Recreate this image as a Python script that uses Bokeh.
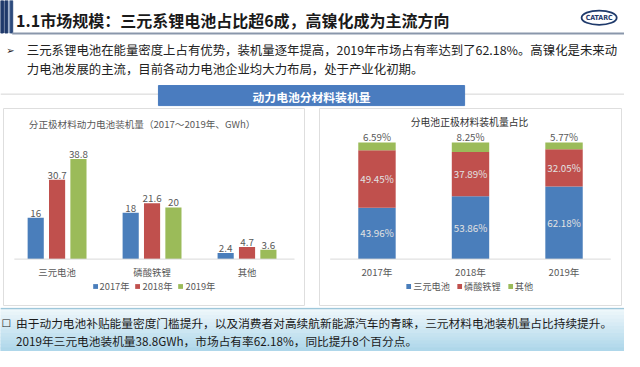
import numpy as np
from bokeh.plotting import figure
from bokeh.models import ColumnDataSource, Range1d, Legend, LegendItem
from bokeh.layouts import column, row
from bokeh.core.properties import value
from bokeh.transform import dodge
from bokeh.embed import file_html
from bokeh.resources import INLINE

# ---------------- data ----------------
slide_title = "1.1市场规模：三元系锂电池占比超6成，高镍化成为主流方向"
bullet_lines = [
    "三元系锂电池在能量密度上占有优势，装机量逐年提高，2019年市场占有率达到了62.18%。高镍化是未来动",
    "力电池发展的主流，目前各动力电池企业均大力布局，处于产业化初期。",
]
banner_text = "动力电池分材料装机量"
footer_lines = [
    "由于动力电池补贴能量密度门槛提升，以及消费者对高续航新能源汽车的青睐，三元材料电池装机量占比持续提升。",
    "2019年三元电池装机量38.8GWh，市场占有率62.18%，同比提升8个百分点。",
]

left_title = "分正极材料动力电池装机量（2017～2019年、GWh）"
categories = ["三元电池", "磷酸铁锂", "其他"]
years = ["2017年", "2018年", "2019年"]
gwh_2017 = [16, 18, 2.4]
gwh_2018 = [30.7, 21.6, 4.7]
gwh_2019 = [38.8, 20, 3.6]

right_title = "分电池正极材料装机量占比"
share_years = ["2017年", "2018年", "2019年"]
materials = ["三元电池", "磷酸铁锂", "其他"]
share_ternary = [43.96, 53.86, 62.18]
share_lfp = [49.45, 37.89, 32.05]
share_other = [6.59, 8.25, 5.77]

# ---------------- styles ----------------
FONT = "Noto Sans CJK SC"
BLUE, RED, GREEN = "#4a7ebb", "#c0504d", "#9bbb59"
GREY_TXT = "#595959"


def deco_fig(w, h, ytop, ybot):
    p = figure(width=w, height=h, x_range=Range1d(0, 640), y_range=Range1d(ybot, ytop),
               output_backend="svg", toolbar_location=None,
               x_axis_location=None, y_axis_location=None, min_border=0,
               outline_line_color=None)
    p.grid.visible = False
    return p


# ---------------- header ----------------
hdr = deco_fig(624, 107, 0, 112)
hdr.quad(left=[0, 4.5, 8.5, 10], right=[3, 7.5, 9.5, 12.5], top=[0] * 4, bottom=[34] * 4,
         color=["#1f3a6b", "#1f3a6b", "#9fb1cc", "#2c4a7c"])
hdr.segment(x0=[12], y0=[34.5], x1=[640], y1=[34.5], line_color="#8a97ab", line_width=2)
hdr.text(x=[16], y=[20], text=[slide_title], text_font=value(FONT), text_font_style="bold",
         text_font_size="16px", text_color="#1a1a1a", text_baseline="middle")
hdr.ellipse(x=[614], y=[18], width=[36], height=[15], fill_color=None,
            line_color="#1f3a6b", line_width=1.8)
hdr.text(x=[614], y=[18.5], text=["CATARC"], text_font=value("DejaVu Sans Condensed"),
         text_font_style="bold", text_font_size="7px", text_color="#1f3a6b",
         text_align="center", text_baseline="middle")
hdr.text(x=[6], y=[52], text=["➢"], text_font=value("DejaVu Sans"), text_font_size="10px",
         text_color="#222222", text_baseline="middle")
hdr.text(x=[27, 27], y=[52, 72], text=bullet_lines, text_font=value(FONT),
         text_font_size="12.4px", text_color="#222222", text_baseline="middle")
hdr.segment(x0=[0], y0=[98], x1=[640], y1=[98], line_color="#d4d4d4", line_width=1)
hdr.quad(left=[162], right=[476], top=[89], bottom=[110], color="#4a7cbf")
hdr.text(x=[319], y=[100], text=[banner_text], text_font=value(FONT), text_font_style="bold",
         text_font_size="11.8px", text_color="white", text_align="center", text_baseline="middle")

# ---------------- left chart ----------------
LX0, LPX, LY0, LPY = 58, 97.5, 271, 2.70


def Lc(px, py):
    return (px - LX0) / LPX, (LY0 - py) / LPY


pL = figure(width=312, height=200,
            x_range=Range1d(Lc(3, 0)[0], Lc(312, 0)[0]),
            y_range=Range1d(Lc(0, 319.5)[1], Lc(0, 113.5)[1]),
            output_backend="svg", toolbar_location=None,
            x_axis_location=None, y_axis_location=None,
            min_border_left=3, min_border_right=8, min_border_top=1, min_border_bottom=2,
            outline_line_color="#dedede")
pL.grid.visible = False

srcL = ColumnDataSource(dict(
    x=list(range(len(categories))), cat=categories,
    v0=gwh_2017, v1=gwh_2018, v2=gwh_2019,
    t0=[f"{v:g}" for v in gwh_2017], t1=[f"{v:g}" for v in gwh_2018],
    t2=[f"{v:g}" for v in gwh_2019]))
items = []
for i, (yr, col) in enumerate(zip(years, [BLUE, RED, GREEN])):
    xd = dodge("x", (i - 1) * 0.225, range=pL.x_range)
    r = pL.vbar(x=xd, top=f"v{i}", bottom=0, width=0.17, fill_color=col, line_color=None, source=srcL)
    pL.text(x=xd, y=f"v{i}", text=f"t{i}", source=srcL, text_align="center",
            text_baseline="alphabetic", y_offset=-5, text_font=value(FONT),
            text_font_size="9.8px", text_color=GREY_TXT)
    items.append(LegendItem(label=yr, renderers=[r]))
pL.segment(x0=[-0.45], x1=[len(categories) - 0.5], y0=[0], y1=[0], line_color="#d9d9d9", line_width=1)
pL.text(x="x", y=0, text="cat", source=srcL, text_align="center", text_baseline="middle",
        y_offset=13, text_font=value(FONT), text_font_size="9.4px", text_color=GREY_TXT)
tx, ty = Lc(29, 130)
pL.text(x=[tx], y=[ty], text=[left_title], text_baseline="middle", text_font=value(FONT),
        text_font_size="9.6px", text_color=GREY_TXT)
legL = Legend(items=items, location="bottom_center", orientation="horizontal",
              glyph_width=6, glyph_height=6, label_height=12, label_standoff=2, spacing=5,
              padding=0, margin=12, border_line_color=None, background_fill_alpha=0,
              label_text_font=FONT, label_text_font_size="9.3px", label_text_color=GREY_TXT)
pL.add_layout(legL)

# ---------------- right chart ----------------
RX0, RPX, RY0, RPY = 386, 96, 271, 1.22


def Rc(px, py):
    return (px - RX0) / RPX, (RY0 - py) / RPY


pR = figure(width=312, height=200,
            x_range=Range1d(Rc(327, 0)[0], Rc(637, 0)[0]),
            y_range=Range1d(Rc(0, 319.5)[1], Rc(0, 113.5)[1]),
            output_backend="svg", toolbar_location=None,
            x_axis_location=None, y_axis_location=None,
            min_border_left=7, min_border_right=3, min_border_top=1, min_border_bottom=2,
            outline_line_color="#dedede")
pR.grid.visible = False

t = np.array(share_ternary)
l = np.array(share_lfp)
o = np.array(share_other)
srcR = ColumnDataSource(dict(
    x=list(range(len(share_years))), yr=share_years, s0=share_ternary, s1=share_lfp, s2=share_other,
    m0=t / 2, m1=t + l / 2, top=t + l + o,
    l0=[f"{v:.2f}%" for v in share_ternary], l1=[f"{v:.2f}%" for v in share_lfp],
    l2=[f"{v:.2f}%" for v in share_other]))
rs = pR.vbar_stack(["s0", "s1", "s2"], x="x", width=0.4, fill_color=[BLUE, RED, GREEN],
                   line_color=None, source=srcR)
for m, lab in (("m0", "l0"), ("m1", "l1")):
    pR.text(x="x", y=m, text=lab, source=srcR, text_align="center", text_baseline="middle",
            text_font=value(FONT), text_font_size="9.8px", text_color="#e2e2e2")
pR.text(x="x", y="top", text="l2", source=srcR, text_align="center", text_baseline="alphabetic",
        y_offset=-5, text_font=value(FONT), text_font_size="9.8px", text_color=GREY_TXT)
pR.segment(x0=[-0.5], x1=[len(share_years) - 0.5], y0=[0], y1=[0], line_color="#d9d9d9", line_width=1)
pR.text(x="x", y=0, text="yr", source=srcR, text_align="center", text_baseline="middle",
        y_offset=13, text_font=value(FONT), text_font_size="9.6px", text_color=GREY_TXT)
tx, ty = Rc(481, 128)
pR.text(x=[tx], y=[ty], text=[right_title], text_align="center", text_baseline="middle",
        text_font=value(FONT), text_font_size="9.8px", text_color="#333333")
legR = Legend(items=[LegendItem(label=m, renderers=[r]) for m, r in zip(materials, rs)],
              location="bottom_center", orientation="horizontal",
              glyph_width=6, glyph_height=6, label_height=12, label_standoff=2, spacing=6,
              padding=0, margin=12, border_line_color=None, background_fill_alpha=0,
              label_text_font=FONT, label_text_font_size="9.2px", label_text_color=GREY_TXT)
pR.add_layout(legR)

# ---------------- footer ----------------
ftr = deco_fig(624, 44, 321, 367)
nb = 12
c0 = np.array([0xee, 0xf7, 0xfb])
c1 = np.array([0xaf, 0xd7, 0xea])
edges = np.linspace(322, 367, nb + 1)
cols = ["#%02x%02x%02x" % tuple(int(round(v)) for v in c0 + (c1 - c0) * k / (nb - 1)) for k in range(nb)]
ftr.quad(left=0, right=640, top=edges[:-1], bottom=edges[1:], color=cols)
ftr.segment(x0=[0], y0=[322], x1=[640], y1=[322], line_color="#9ec7da", line_width=1.5)
ftr.text(x=[1], y=[337], text=["□"], text_font=value("DejaVu Sans"), text_font_style="bold",
         text_font_size="10px", text_color="#1a1a1a", text_baseline="middle")
ftr.text(x=[16, 16], y=[337, 355], text=footer_lines, text_font=value(FONT),
         text_font_size="11.7px", text_color="#1a1a1a", text_baseline="middle")

layout = column(hdr, row(pL, pR, spacing=0), ftr, spacing=0)
open("out.html", "w").write(file_html(layout, INLINE))
